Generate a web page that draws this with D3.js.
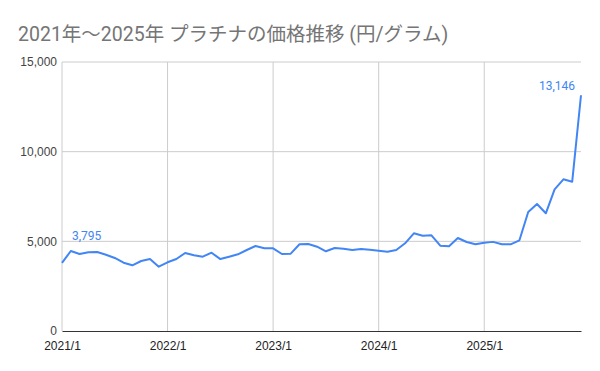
<!DOCTYPE html>
<html>
<head>
<meta charset="utf-8">
<script src="https://cdn.jsdelivr.net/npm/d3@7.9.0/dist/d3.min.js"></script>
<style>
  html, body { margin: 0; padding: 0; background: #fff; }
  svg { display: block; }
</style>
</head>
<body>
<svg id="chart" width="600" height="371"></svg>
<script>
// monthly points, 2021/1 .. 2025/12
const years = [2021, 2022, 2023, 2024, 2025];
const months = years.flatMap((y) => d3.range(1, 13).map((m) => `${y}/${m}`));
const tickLabels = ['2021/1', '2022/1', '2023/1', '2024/1', '2025/1'];
const yTicks = [0, 5000, 10000, 15000];

// 円/グラム
const prices = [
  3795, 4461, 4294, 4388, 4405, 4255, 4071, 3808, 3664, 3903, 4015, 3586,
  3831, 4015, 4350, 4221, 4143, 4366, 4010, 4143, 4277, 4517, 4740, 4612,
  4612, 4294, 4311, 4835, 4852, 4701, 4444, 4628, 4589, 4517, 4573, 4534,
  4478, 4422, 4517, 4890, 5448, 5316, 5335, 4757, 4723, 5186, 4963, 4835,
  4924, 4970, 4835, 4835, 5058, 6640, 7082, 6563, 7902, 8459, 8326, 13146
];

const data = months.map((m, i) => ({ label: m, value: prices[i] }));

const svg = d3.select('#chart');
const margin = { top: 62, right: 19, bottom: 40, left: 62 };
const width = 600 - margin.left - margin.right;
const height = 371 - margin.top - margin.bottom;

const x = d3.scalePoint().domain(months).range([0, width]);
const y = d3.scaleLinear().domain([0, 15000]).range([height, 0]);

// title
svg.append('text')
  .attr('x', 18)
  .attr('y', 41)
  .attr('fill', '#757575')
  .style('font-family', 'Roboto, "Noto Sans CJK JP", sans-serif')
  .style('font-size', '19.5px')
  .text('2021年～2025年 プラチナの価格推移 (円/グラム)');

const g = svg.append('g').attr('transform', `translate(${margin.left},${margin.top})`);

// horizontal grid
g.append('g')
  .selectAll('line')
  .data(yTicks.filter((d) => d > 0))
  .join('line')
  .attr('x1', 0)
  .attr('x2', width)
  .attr('y1', (d) => y(d))
  .attr('y2', (d) => y(d))
  .attr('stroke', '#cccccc')
  .attr('stroke-width', 1);

// vertical grid
g.append('g')
  .selectAll('line')
  .data(tickLabels)
  .join('line')
  .attr('x1', (d) => x(d))
  .attr('x2', (d) => x(d))
  .attr('y1', 0)
  .attr('y2', height)
  .attr('stroke', '#cccccc')
  .attr('stroke-width', 1);

// y axis labels
const yAxis = g.append('g')
  .call(d3.axisLeft(y).tickValues(yTicks).tickSize(0).tickPadding(5).tickFormat(d3.format(',')));
yAxis.select('.domain').remove();
yAxis.selectAll('text')
  .attr('fill', '#444')
  .style('font-family', 'Arial, "Liberation Sans", sans-serif')
  .style('font-size', '12px');

// x axis
const xAxis = g.append('g')
  .attr('transform', `translate(0,${height})`)
  .call(d3.axisBottom(x).tickValues(tickLabels).tickSize(0).tickPadding(10));
xAxis.select('.domain').attr('stroke', '#333').attr('stroke-width', 1);
xAxis.selectAll('text')
  .attr('fill', '#222')
  .style('font-family', 'Arial, "Liberation Sans", sans-serif')
  .style('font-size', '12px');

// price line
const line = d3.line()
  .x((d) => x(d.label))
  .y((d) => y(d.value));

g.append('path')
  .datum(data)
  .attr('d', line)
  .attr('fill', 'none')
  .attr('stroke', '#4285f4')
  .attr('stroke-width', 2)
  .attr('stroke-linejoin', 'round');

// data labels on first and last point
const first = data[0];
const last = data[data.length - 1];
const fmt = d3.format(',');

g.append('text')
  .attr('x', x(first.label) + 10)
  .attr('y', y(first.value) - 23)
  .attr('fill', '#4285f4')
  .style('font-family', 'Roboto, Arial, sans-serif')
  .style('font-size', '12px')
  .text(fmt(first.value));

g.append('text')
  .attr('x', x(last.label) - 6)
  .attr('y', y(last.value) - 5)
  .attr('text-anchor', 'end')
  .attr('fill', '#4285f4')
  .style('font-family', 'Roboto, Arial, sans-serif')
  .style('font-size', '12px')
  .text(fmt(last.value));
</script>
</body>
</html>
